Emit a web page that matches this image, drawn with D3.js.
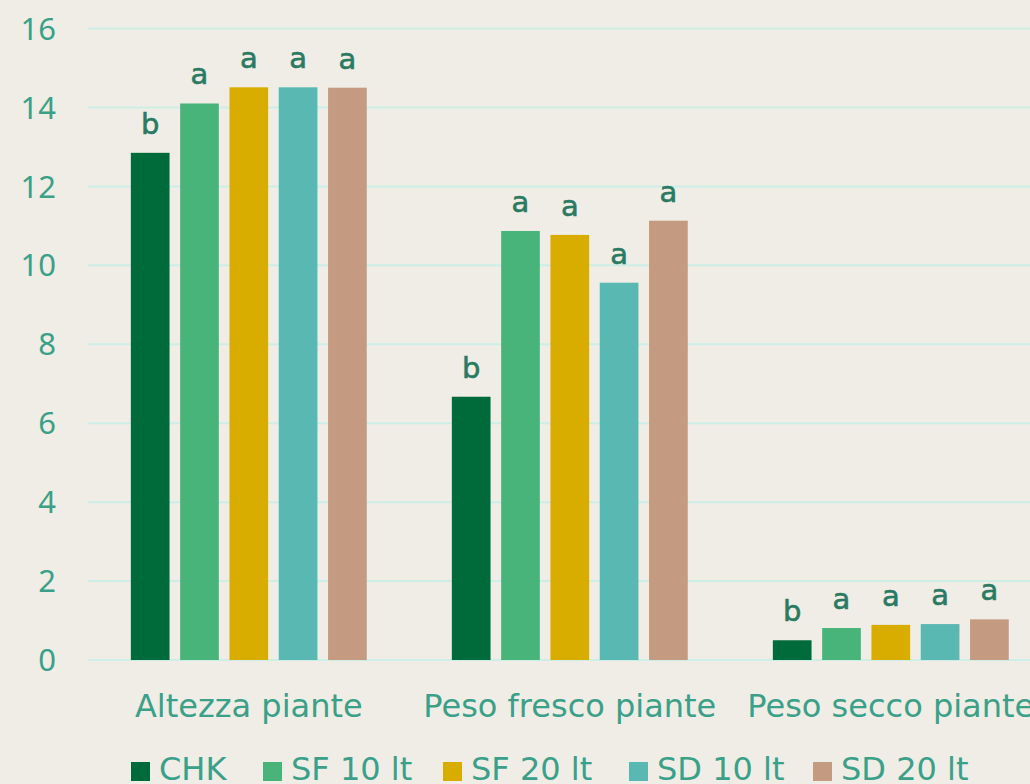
<!DOCTYPE html>
<html>
<head>
<meta charset="utf-8">
<script src="https://cdnjs.cloudflare.com/ajax/libs/d3/7.8.5/d3.min.js"></script>
<style>
  html, body { margin: 0; padding: 0; background: #efede6; }
  svg { display: block; font-family: "DejaVu Sans", sans-serif; }
</style>
</head>
<body>
<script>
let width = 1030
let height = 784

let categories = ["Altezza piante", "Peso fresco piante", "Peso secco piante"]
let series = ["CHK", "SF 10 lt", "SF 20 lt", "SD 10 lt", "SD 20 lt"]
let colors = ["#006b3a", "#48b479", "#d9ad00", "#5ab8b3", "#c49a80"]
// one array per series, one value per category
let chk = [12.85, 6.67, 0.50]
let sf10 = [14.10, 10.87, 0.81]
let sf20 = [14.51, 10.77, 0.89]
let sd10 = [14.51, 9.56, 0.91]
let sd20 = [14.50, 11.13, 1.03]
// significance letters
let letters = [
    ["b", "a", "a", "a", "a"],
    ["b", "a", "a", "a", "a"],
    ["b", "a", "a", "a", "a"]
]
let yTicks = [0, 2, 4, 6, 8, 10, 12, 14, 16]

let values = [chk, sf10, sf20, sd10, sd20]

let svg = d3.select("body").append("svg")
    .attr("width", width)
    .attr("height", height)

svg.append("rect")
    .attr("width", width).attr("height", height)
    .attr("fill", "#efede6")

let y = d3.scaleLinear().domain([0, 16]).range([660, 28.5])
let x0 = d3.scaleBand().domain(categories).range([88.3, 1051.3])
let x1 = d3.scaleBand().domain(series).range([0, x0.bandwidth()])
    .paddingInner(0.215).paddingOuter(0.863)

// grid
svg.append("g").selectAll("line")
    .data(yTicks)
    .join("line")
    .attr("x1", 88).attr("x2", width)
    .attr("y1", d => y(d)).attr("y2", d => y(d))
    .attr("stroke", "#cdeee6")
    .attr("stroke-width", 2)

// y labels
svg.append("g").selectAll("text")
    .data(yTicks)
    .join("text")
    .attr("x", 56)
    .attr("y", d => y(d))
    .attr("dy", "0.36em")
    .attr("text-anchor", "end")
    .attr("fill", "#3aa088")
    .attr("font-family", "Noto Sans")
    .attr("font-size", 31)
    .text(d => d)

let rows = []
categories.forEach((c, ci) => {
    series.forEach((s, si) => {
        rows.push({cat: c, ser: s, v: values[si][ci], col: colors[si], letter: letters[ci][si]})
    })
})

let groups = svg.append("g")
groups.selectAll("rect")
    .data(rows)
    .join("rect")
    .attr("x", d => x0(d.cat) + x1(d.ser))
    .attr("y", d => y(d.v))
    .attr("width", x1.bandwidth())
    .attr("height", d => y(0) - y(d.v))
    .attr("fill", d => d.col)

groups.selectAll("text")
    .data(rows)
    .join("text")
    .attr("x", d => x0(d.cat) + x1(d.ser) + x1.bandwidth() / 2)
    .attr("y", d => y(d.v) - 19)
    .attr("text-anchor", "middle")
    .attr("fill", "#2a7a62")
    .attr("font-size", 29)
    .attr("stroke", "#2a7a62")
    .attr("stroke-width", 0.6)
    .text(d => d.letter)

// category labels
svg.append("g").selectAll("text")
    .data(categories)
    .join("text")
    .attr("x", d => x0(d) + x0.bandwidth() / 2)
    .attr("y", 717)
    .attr("text-anchor", "middle")
    .attr("fill", "#3aa088")
    .attr("font-size", 32)
    .text(d => d)

// legend
let legendX = [131, 263, 443, 629, 813]
let legend = svg.append("g").selectAll("g")
    .data(series)
    .join("g")
    .attr("transform", (d, i) => "translate(" + legendX[i] + ",0)")
legend.append("rect")
    .attr("y", 762).attr("width", 19).attr("height", 19)
    .attr("fill", (d, i) => colors[i])
legend.append("text")
    .attr("x", 28).attr("y", 780)
    .attr("fill", "#3aa088")
    .attr("font-size", 32)
    .text(d => d)
</script>
</body>
</html>
